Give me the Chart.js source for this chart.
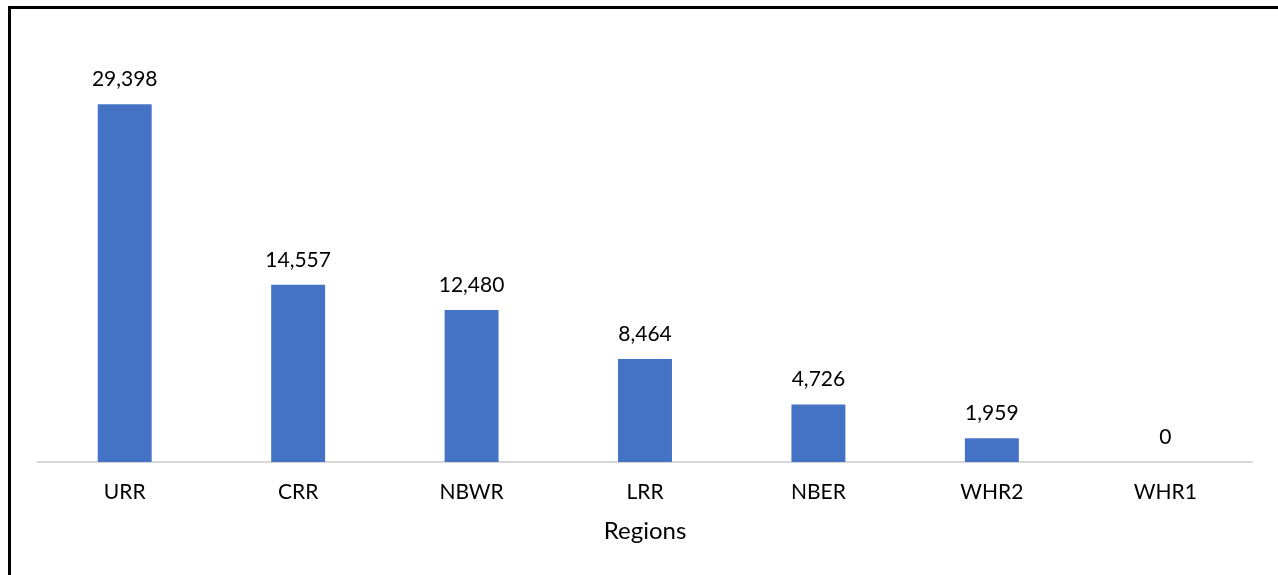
<!DOCTYPE html>
<html>
<head>
<meta charset="utf-8">
<script src="https://cdn.jsdelivr.net/npm/chart.js@4"></script>
<style>
html,body{margin:0;padding:0;background:#fff;overflow:hidden;}
#wrap{position:relative;width:1278px;height:575px;}
#frame{position:absolute;left:8px;top:6px;width:1300px;height:600px;border-top:3px solid #000;border-left:3px solid #000;pointer-events:none;}
</style>
</head>
<body>
<div id="wrap">
<canvas id="c" width="1278" height="575"></canvas>
<div id="frame"></div>
</div>
<script>
const categories = ["URR", "CRR", "NBWR", "LRR", "NBER", "WHR2", "WHR1"];
const values = [29398, 14557, 12480, 8464, 4726, 1959, 0];
const axisTitle = "Regions";
const yMax = 35000;

const FONT = "Lato, 'Open Sans', sans-serif";

const labelPlugin = {
  id: 'valueLabels',
  afterDatasetsDraw(chart) {
    const ctx = chart.ctx;
    const meta = chart.getDatasetMeta(0);
    ctx.save();
    ctx.font = "21px " + FONT;
    ctx.fillStyle = "#000";
    ctx.textAlign = "center";
    ctx.textBaseline = "alphabetic";
    meta.data.forEach((bar, i) => {
      ctx.fillText(values[i].toLocaleString('en-US'), bar.x, bar.y - 18);
    });
    ctx.restore();
  }
};

new Chart(document.getElementById('c'), {
  type: 'bar',
  data: {
    labels: categories,
    datasets: [{
      data: values,
      backgroundColor: '#4472C4',
      borderWidth: 0,
      barPercentage: 0.311,
      categoryPercentage: 1
    }]
  },
  options: {
    responsive: false,
    animation: false,
    devicePixelRatio: 1,
    layout: { padding: { left: 38, right: 26, top: 36, bottom: 29 } },
    plugins: { legend: { display: false }, tooltip: { enabled: false } },
    scales: {
      x: {
        grid: { display: false, drawTicks: false },
        border: { display: true, color: '#d9d9d9', width: 2 },
        ticks: { color: '#000', font: { family: FONT, size: 21 }, padding: 18, maxRotation: 0 },
        title: { display: true, text: axisTitle, color: '#000', font: { family: FONT, size: 24 }, padding: { top: 6, bottom: 0 } },
        afterFit(scale) { scale.height = 84; }
      },
      y: {
        display: false,
        min: 0,
        max: yMax
      }
    }
  },
  plugins: [labelPlugin]
});
</script>
</body>
</html>
